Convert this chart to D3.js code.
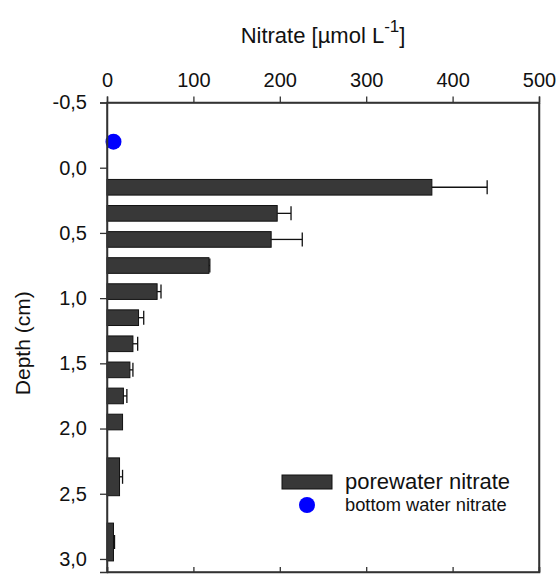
<!DOCTYPE html>
<html>
<head>
<meta charset="utf-8">
<script src="https://cdn.jsdelivr.net/npm/d3@7/dist/d3.min.js"></script>
<style>
  html, body { margin: 0; padding: 0; background: #fff; }
  svg { display: block; font-family: Arial, "Liberation Sans", sans-serif; }
</style>
</head>
<body>
<svg id="chart" width="559" height="574"></svg>
<script>
// Porewater nitrate profile (sample layer centres in cm below the sediment surface)
const depthCentres = [0.15, 0.35, 0.55, 0.75, 0.95, 1.15, 1.35, 1.55, 1.75, 1.95, 2.37, 2.87];
const layerThickness = [0.12, 0.12, 0.12, 0.12, 0.12, 0.12, 0.12, 0.12, 0.12, 0.12, 0.29, 0.29];
const nitrate = [376, 197, 190, 118, 58, 36.5, 30, 26.5, 19, 18, 14.5, 7.5];
const nitrateErr = [64, 16, 36, 1, 4.5, 6, 5.5, 3.5, 4, 0, 3.5, 1.2];

// Overlying (bottom) water sample
const bottomWaterDepth = [-0.2];
const bottomWaterNitrate = [7.5];

const xTicks = [0, 100, 200, 300, 400, 500];
const yTicks = [-0.5, 0.0, 0.5, 1.0, 1.5, 2.0, 2.5, 3.0];
const legendLabels = ["porewater nitrate", "bottom water nitrate"];

const svg = d3.select("#chart");
const m = { left: 107, right: 539, top: 102.5, bottom: 572 };

const x = d3.scaleLinear().domain([0, 500]).range([m.left, m.right]);
const y = d3.scaleLinear().domain([-0.5, 3.1]).range([m.top, m.bottom]);
// decimal comma and a plain hyphen for negatives
const fmt = d => d.toFixed(1).replace(".", ",");

const axisColor = "#333";
const textColor = "#111";

// Bars
const rows = depthCentres.map((d, i) => ({ d, t: layerThickness[i], v: nitrate[i], e: nitrateErr[i] }));
svg.append("g").selectAll("rect").data(rows).join("rect")
  .attr("x", x(0))
  .attr("y", r => y(r.d - r.t / 2))
  .attr("width", r => x(r.v) - x(0))
  .attr("height", r => y(r.d + r.t / 2) - y(r.d - r.t / 2))
  .attr("fill", "#383838")
  .attr("stroke", "#111")
  .attr("stroke-width", 1);

// Error bars (positive side)
const eb = svg.append("g").attr("stroke", "#111").attr("stroke-width", 1.3);
eb.selectAll("line.w").data(rows).join("line").attr("class", "w")
  .attr("x1", r => x(r.v)).attr("x2", r => x(r.v + r.e))
  .attr("y1", r => y(r.d)).attr("y2", r => y(r.d));
eb.selectAll("line.c").data(rows.filter(r => r.e > 0)).join("line").attr("class", "c")
  .attr("x1", r => x(r.v + r.e)).attr("x2", r => x(r.v + r.e))
  .attr("y1", r => y(r.d) - 7).attr("y2", r => y(r.d) + 7);

// Bottom water point
svg.append("g").selectAll("circle").data(bottomWaterDepth).join("circle")
  .attr("cx", (d, i) => x(bottomWaterNitrate[i]))
  .attr("cy", d => y(d))
  .attr("r", 8)
  .attr("fill", "#0000ff");

// Frame and axes
const axTop = svg.append("g").attr("transform", `translate(0,${m.top})`)
  .call(d3.axisTop(x).tickValues(xTicks).tickSize(6).tickPadding(10).tickFormat(d3.format("d")));
const axLeft = svg.append("g").attr("transform", `translate(${m.left},0)`)
  .call(d3.axisLeft(y).tickValues(yTicks).tickSize(7).tickPadding(13).tickFormat(fmt));
const axBottom = svg.append("g").attr("transform", `translate(0,${m.bottom})`)
  .call(d3.axisTop(x).tickValues(xTicks).tickSize(5).tickFormat(""));
const axRight = svg.append("g").attr("transform", `translate(${m.right},0)`)
  .call(d3.axisRight(y).tickValues([]).tickSizeOuter(0));

[axTop, axLeft, axBottom, axRight].forEach(g => {
  g.select(".domain").attr("stroke", axisColor).attr("stroke-width", 1.5);
  g.selectAll(".tick line").attr("stroke", axisColor).attr("stroke-width", 1.3);
  g.selectAll("text").attr("fill", textColor).attr("font-size", 20)
    .attr("font-family", "Arial, 'Liberation Sans', sans-serif");
});
// clean frame edges over the axis domains
svg.append("rect")
  .attr("x", m.left).attr("y", m.top)
  .attr("width", m.right - m.left).attr("height", m.bottom - m.top)
  .attr("fill", "none").attr("stroke", axisColor).attr("stroke-width", 1.5);

// Axis titles
const title = svg.append("text")
  .attr("x", (m.left + m.right) / 2).attr("y", 43)
  .attr("text-anchor", "middle").attr("font-size", 22).attr("fill", textColor);
title.append("tspan").text("Nitrate [\u00b5mol L");
title.append("tspan").attr("dy", -11).attr("font-size", 17).text("-1");
title.append("tspan").attr("dy", 11).text("]");

svg.append("text")
  .attr("transform", `translate(30,${(m.top + m.bottom) / 2 + 6}) rotate(-90)`)
  .attr("text-anchor", "middle").attr("font-size", 21).attr("fill", textColor)
  .text("Depth (cm)");

// Legend
const lg = svg.append("g");
lg.append("rect").attr("x", 282).attr("y", 475).attr("width", 50).attr("height", 14)
  .attr("fill", "#383838").attr("stroke", "#111").attr("stroke-width", 1);
lg.append("circle").attr("cx", 307).attr("cy", 505).attr("r", 8).attr("fill", "#0000ff");
lg.append("text").attr("x", 345).attr("y", 489).attr("font-size", 22).attr("fill", textColor).text(legendLabels[0]);
lg.append("text").attr("x", 345).attr("y", 511).attr("font-size", 18.3).attr("fill", textColor).text(legendLabels[1]);
</script>
</body>
</html>
